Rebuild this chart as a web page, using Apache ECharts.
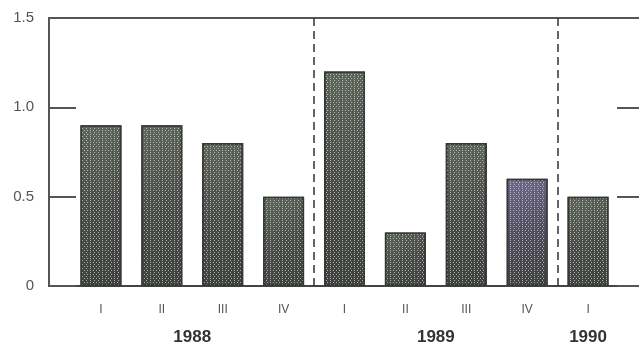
<!DOCTYPE html>
<html>
<head>
<meta charset="utf-8">
<script src="https://cdn.jsdelivr.net/npm/echarts@6/dist/echarts.min.js"></script>
<style>html,body{margin:0;padding:0;background:#fff;}#c{width:639px;height:350px;}</style>
</head>
<body>
<div id="c"></div>
<script>
const quarters = ['I', 'II', 'III', 'IV', 'I', 'II', 'III', 'IV', 'I'];
const values = [0.9, 0.9, 0.8, 0.5, 1.2, 0.3, 0.8, 0.6, 0.5];
const years = ['1988', '1989', '1990'];
const quartersPerYear = [4, 4, 1];
const yTicks = [0, 0.5, 1.0, 1.5];

// group centres and dividers derived from the group counts
const yearCenters = [];
const dividers = [];
let start = 0;
quartersPerYear.forEach((n, i) => {
  yearCenters.push(start + (n - 1) / 2);
  start += n;
  if (i < quartersPerYear.length - 1) dividers.push(start - 0.5);
});

const chart = echarts.init(document.getElementById('c'), null, {renderer: 'canvas'});
const fontFamily = '"Liberation Sans", Arial, sans-serif';
const barGrad = new echarts.graphic.LinearGradient(0, 0, 1, 1, [
  {offset: 0, color: '#5e665a'},
  {offset: 0.5, color: '#4a4c49'},
  {offset: 1, color: '#3e403e'}
]);
const purpleGrad = new echarts.graphic.LinearGradient(0, 0, 1, 1, [
  {offset: 0, color: '#716b8f'},
  {offset: 0.45, color: '#524f62'},
  {offset: 1, color: '#3d3f3c'}
]);

chart.setOption({
  animation: false,
  backgroundColor: '#fff',
  grid: [
    {left: 49, right: -1, top: 18, bottom: 64},
    {left: 70.5, right: 20.5, top: 18, bottom: 64}
  ],
  xAxis: [
    { // frame bottom line
      gridIndex: 0, type: 'value', min: 0, max: 1, position: 'bottom',
      axisLine: {show: true, onZero: false, lineStyle: {color: '#444', width: 2}},
      axisTick: {show: false}, axisLabel: {show: false}, splitLine: {show: false}
    },
    { // frame top line
      gridIndex: 0, type: 'value', min: 0, max: 1, position: 'top',
      axisLine: {show: true, onZero: false, lineStyle: {color: '#555', width: 2}},
      axisTick: {show: false}, axisLabel: {show: false}, splitLine: {show: false}
    },
    { // quarters
      gridIndex: 1, type: 'category', data: quarters, position: 'bottom',
      axisLine: {show: false, onZero: false}, axisTick: {show: false},
      axisLabel: {margin: 18, color: '#555', fontSize: 12, fontFamily: fontFamily}
    },
    { // years
      gridIndex: 1, type: 'value', min: -0.5, max: quarters.length - 0.5, position: 'bottom',
      axisLine: {show: false, onZero: false}, axisTick: {show: false}, splitLine: {show: false},
      axisLabel: {
        margin: 43, color: '#333', fontSize: 17, fontWeight: 'bold', fontFamily: fontFamily,
        customValues: yearCenters,
        formatter: (v) => { const i = yearCenters.indexOf(v); return i >= 0 ? years[i] : ''; }
      }
    }
  ],
  yAxis: [
    {
      gridIndex: 0, type: 'value', min: 0, max: 1.5, interval: 0.5, position: 'left',
      axisLine: {show: true, onZero: false, lineStyle: {color: '#555', width: 2}},
      axisTick: {show: true, inside: true, length: 27, lineStyle: {color: '#555', width: 2}},
      splitLine: {show: false},
      axisLabel: {
        margin: 15, color: '#555', fontSize: 15, fontFamily: fontFamily,
        formatter: (v) => v === 0 ? '0' : v.toFixed(1)
      }
    },
    {
      gridIndex: 0, type: 'value', min: 0, max: 1.5, interval: 0.5, position: 'right',
      axisLine: {show: false, onZero: false},
      axisTick: {show: true, inside: true, length: 22, lineStyle: {color: '#555', width: 2}},
      splitLine: {show: false}, axisLabel: {show: false}
    },
    {
      gridIndex: 1, type: 'value', min: 0, max: 1.5, show: false
    }
  ],
  series: [
    {
      type: 'bar', xAxisIndex: 2, yAxisIndex: 2,
      data: values.map((v, i) => i === 7 ? {value: v, itemStyle: {color: purpleGrad}} : v),
      barWidth: 41,
      itemStyle: {
        color: barGrad, borderColor: '#363836', borderWidth: 1.5,
        decal: {
          symbol: 'rect', symbolSize: 1, color: 'rgba(225,230,220,0.65)',
          dashArrayX: [[1, 2], [0, 1.5, 1, 0.5]], dashArrayY: [1, 0.5]
        }
      },
      z: 2
    },
    {
      type: 'line', xAxisIndex: 3, yAxisIndex: 2, data: [], symbol: 'none',
      markLine: {
        silent: true, symbol: 'none', label: {show: false},
        lineStyle: {color: '#333', type: [8, 5], width: 1.5},
        data: dividers.map(d => ({xAxis: d}))
      }
    }
  ]
});
</script>
</body>
</html>
